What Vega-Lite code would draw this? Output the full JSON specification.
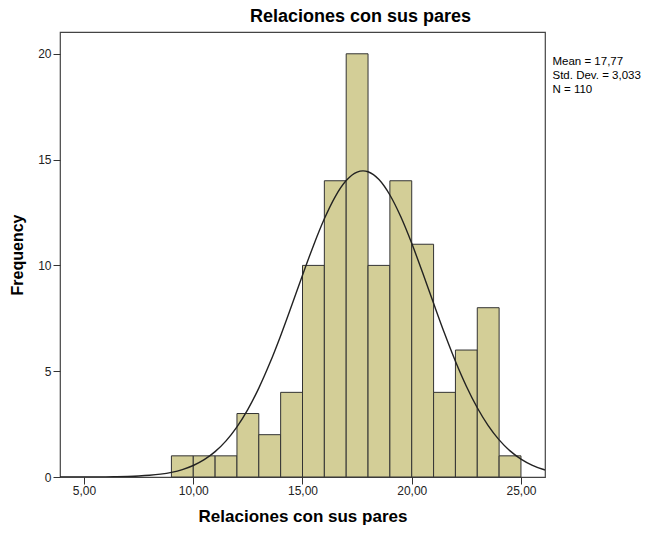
{
  "$schema": "https://vega.github.io/schema/vega-lite/v6.json",
  "autosize": "none",
  "width": 485,
  "height": 445,
  "padding": {"left": 60, "top": 32, "right": 109, "bottom": 56},
  "background": "white",
  "title": {"text": "Relaciones con sus pares", "font": "Liberation Sans", "fontSize": 18, "fontWeight": "bold", "color": "#000", "anchor": "middle", "dx": 58, "offset": 6},
  "config": {
    "font": "Liberation Sans",
    "view": {"fill": "#f0f0f0", "stroke": "#444", "strokeWidth": 1.2},
    "axis": {"grid": false, "domain": false, "labelFont": "Liberation Sans", "labelFontSize": 12, "labelColor": "#222", "tickColor": "#333", "tickSize": 7, "titleFont": "Liberation Sans", "titleFontWeight": "bold", "titleColor": "#000"},
    "legend": {"labelFont": "Liberation Sans", "labelFontSize": 11.5, "labelColor": "#000"}
  },
  "datasets": {
    "bars": [
      {"bin_start": 9, "bin_end": 10, "count": 1},
      {"bin_start": 10, "bin_end": 11, "count": 1},
      {"bin_start": 11, "bin_end": 12, "count": 1},
      {"bin_start": 12, "bin_end": 13, "count": 3},
      {"bin_start": 13, "bin_end": 14, "count": 2},
      {"bin_start": 14, "bin_end": 15, "count": 4},
      {"bin_start": 15, "bin_end": 16, "count": 10},
      {"bin_start": 16, "bin_end": 17, "count": 14},
      {"bin_start": 17, "bin_end": 18, "count": 20},
      {"bin_start": 18, "bin_end": 19, "count": 10},
      {"bin_start": 19, "bin_end": 20, "count": 14},
      {"bin_start": 20, "bin_end": 21, "count": 11},
      {"bin_start": 21, "bin_end": 22, "count": 4},
      {"bin_start": 22, "bin_end": 23, "count": 6},
      {"bin_start": 23, "bin_end": 24, "count": 8},
      {"bin_start": 24, "bin_end": 25, "count": 1}
    ],
    "curve": [
      {"x": 3.9, "y": 0.0004},
      {"x": 4.5, "y": 0.001},
      {"x": 5, "y": 0.002},
      {"x": 5.5, "y": 0.004},
      {"x": 6, "y": 0.0078},
      {"x": 6.5, "y": 0.0145},
      {"x": 7, "y": 0.0264},
      {"x": 7.5, "y": 0.0469},
      {"x": 8, "y": 0.0808},
      {"x": 8.5, "y": 0.1355},
      {"x": 9, "y": 0.2214},
      {"x": 9.5, "y": 0.3516},
      {"x": 10, "y": 0.5437},
      {"x": 10.5, "y": 0.8179},
      {"x": 11, "y": 1.198},
      {"x": 11.5, "y": 1.708},
      {"x": 12, "y": 2.369},
      {"x": 12.5, "y": 3.198},
      {"x": 13, "y": 4.2},
      {"x": 13.5, "y": 5.371},
      {"x": 14, "y": 6.681},
      {"x": 14.5, "y": 8.092},
      {"x": 15, "y": 9.535},
      {"x": 15.5, "y": 10.934},
      {"x": 16, "y": 12.202},
      {"x": 16.5, "y": 13.254},
      {"x": 17, "y": 14.009},
      {"x": 17.5, "y": 14.411},
      {"x": 17.77, "y": 14.468},
      {"x": 18, "y": 14.426},
      {"x": 18.5, "y": 14.055},
      {"x": 19, "y": 13.326},
      {"x": 19.5, "y": 12.296},
      {"x": 20, "y": 11.042},
      {"x": 20.5, "y": 9.649},
      {"x": 21, "y": 8.206},
      {"x": 21.5, "y": 6.791},
      {"x": 22, "y": 5.47},
      {"x": 22.5, "y": 4.288},
      {"x": 23, "y": 3.271},
      {"x": 23.5, "y": 2.429},
      {"x": 24, "y": 1.755},
      {"x": 24.5, "y": 1.234},
      {"x": 25, "y": 0.8444},
      {"x": 25.5, "y": 0.5624},
      {"x": 26, "y": 0.3643},
      {"x": 26.1, "y": 0.3329}
    ],
    "stats": [
      {"stat": "Mean = 17,77", "order": 1},
      {"stat": "Std. Dev. = 3,033", "order": 2},
      {"stat": "N = 110", "order": 3}
    ]
  },
  "layer": [
    {
      "data": {"name": "bars"},
      "mark": {"type": "rect", "fill": "#d3ce97", "stroke": "#333", "strokeWidth": 1},
      "encoding": {
        "x": {"field": "bin_start", "type": "quantitative", "scale": {"domain": [3.9, 26.1], "nice": false, "zero": false},
              "axis": {"title": "Relaciones con sus pares", "titleFontSize": 17, "titlePadding": 12, "values": [5, 10, 15, 20, 25], "labelExpr": "replace(format(datum.value, '.2f'), '.', ',')", "labelPadding": 1}},
        "x2": {"field": "bin_end"},
        "y": {"field": "count", "type": "quantitative", "scale": {"domain": [0, 21.03], "nice": false},
              "axis": {"title": "Frequency", "titleFontSize": 16, "titlePadding": 12, "values": [0, 5, 10, 15, 20], "labelPadding": 2}},
        "y2": {"datum": 0}
      }
    },
    {
      "data": {"name": "curve"},
      "mark": {"type": "line", "color": "#222", "strokeWidth": 1.4, "interpolate": "monotone", "clip": true},
      "encoding": {
        "x": {"field": "x", "type": "quantitative"},
        "y": {"field": "y", "type": "quantitative"}
      }
    },
    {
      "data": {"name": "stats"},
      "mark": {"type": "text", "opacity": 0},
      "encoding": {
        "text": {"field": "stat"},
        "color": {"field": "stat", "type": "nominal", "sort": {"field": "order"},
                  "scale": {"range": ["#000", "#000", "#000"]},
                  "legend": {"title": null, "orient": "none", "legendX": 481, "legendY": 24, "symbolSize": 0, "symbolOpacity": 0, "symbolStrokeWidth": 0, "labelOffset": 0, "rowPadding": 1, "padding": 0}}
      }
    }
  ]
}
